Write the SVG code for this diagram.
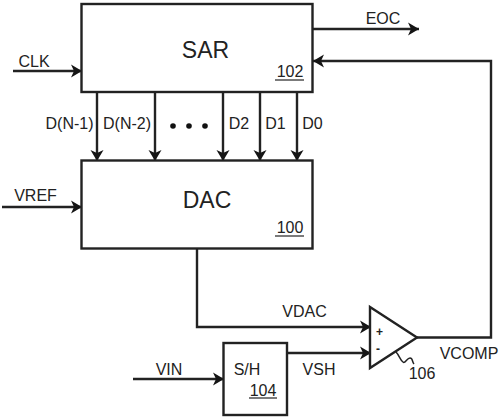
<svg xmlns="http://www.w3.org/2000/svg" width="500" height="419" viewBox="0 0 500 419">
<defs>
<marker id="a" markerUnits="userSpaceOnUse" markerWidth="14" markerHeight="16" refX="12" refY="8" orient="auto">
<path d="M1 1.500L12 8L1 14.500L4 8Z" fill="#151515"/>
</marker>
</defs>
<style>
.b{fill:#fff;stroke:#222;stroke-width:2.400}
.c{fill:none;stroke:#222;stroke-width:2.400}
.w{marker-end:url(#a)}
.u{fill:none;stroke:#333;stroke-width:1.300}
text{font-family:"Liberation Sans",Arial,sans-serif;fill:#222;font-size:16px}
.l{font-size:23px}
.m{text-anchor:middle}
</style>
<rect width="500" height="419" fill="#fff"/>
<g id="connectors">
<path class="c w" d="M13 71H82"/>
<path class="c w" d="M2 207H82"/>
<path class="c w" d="M313 29H419"/>
<path class="c w" d="M97 92V161"/>
<path class="c w" d="M155 92V161"/>
<path class="c w" d="M223 92V161"/>
<path class="c w" d="M260 92V161"/>
<path class="c w" d="M297 92V161"/>
<path class="c w" d="M197 249V327H371"/>
<path class="c w" d="M133 379H224"/>
<path class="c w" d="M287 353H371"/>
<path class="c w" d="M417 337.500H491V61H313"/>
<path fill="none" stroke="#222" stroke-width="1.500" d="M396 352C399 355 400 360 403 362C405 364 407 358 410 358C413 358 412 362 414 364"/>
</g>
<g id="sar">
<rect class="b" x="81.500" y="4" width="231" height="88"/>
<text class="l m" x="205.500" y="58">SAR</text>
<text class="m" x="290" y="77">102</text>
<path class="u" d="M275 80H304"/>
</g>
<g id="dac">
<rect class="b" x="81.500" y="160.500" width="231" height="88"/>
<text class="l m" x="207" y="208">DAC</text>
<text class="m" x="290" y="233">100</text>
<path class="u" d="M275 236H304"/>
</g>
<g id="sh">
<rect class="b" x="223.500" y="343" width="63.500" height="72"/>
<text class="m" x="247" y="375">S/H</text>
<text class="m" x="263" y="396">104</text>
<path class="u" d="M249 398H277"/>
</g>
<g id="comp">
<path class="b" d="M370 307L417 337.500L370 368Z"/>
<text x="376" y="336" font-weight="bold" style="font-size:12px">+</text>
<text x="376" y="353" font-weight="bold" style="font-size:12px">-</text>
</g>
<g id="labels">
<text class="m" x="34" y="67">CLK</text>
<text class="m" x="35.500" y="201">VREF</text>
<text class="m" x="383" y="24">EOC</text>
<text class="m" x="69.500" y="129">D(N-1)</text>
<text class="m" x="127" y="129">D(N-2)</text>
<text class="m" x="239" y="129">D2</text>
<text class="m" x="275.500" y="129">D1</text>
<text class="m" x="312.500" y="129">D0</text>
<text class="m" x="304.500" y="317">VDAC</text>
<text class="m" x="319" y="375">VSH</text>
<text class="m" x="169" y="375">VIN</text>
<text class="m" x="469" y="359">VCOMP</text>
<text class="m" x="422" y="379">106</text>
<circle cx="173" cy="126" r="2.800" fill="#111"/>
<circle cx="189" cy="126" r="2.800" fill="#111"/>
<circle cx="205" cy="126" r="2.800" fill="#111"/>
</g>
</svg>
